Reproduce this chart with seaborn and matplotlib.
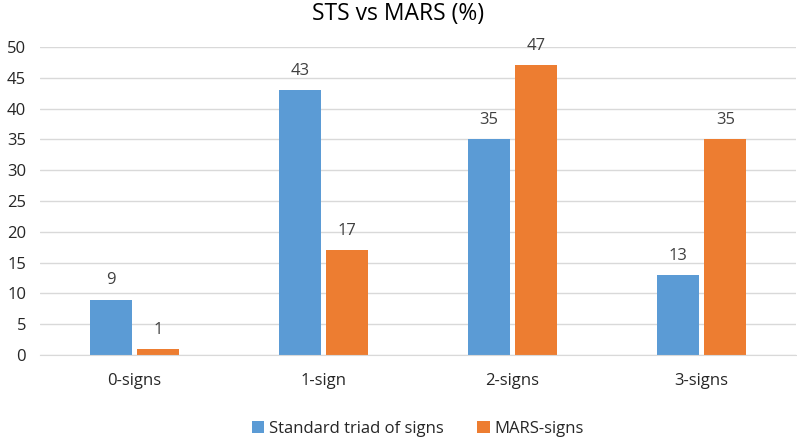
import pandas as pd
import matplotlib.pyplot as plt
import seaborn as sns

# data
categories = ['0-signs', '1-sign', '2-signs', '3-signs']
sts = [9, 43, 35, 13]
mars = [1, 17, 47, 35]
series = ['Standard triad of signs', 'MARS-signs']

df = pd.DataFrame({
    'cat': categories * 2,
    'val': sts + mars,
    'series': [series[0]] * 4 + [series[1]] * 4,
})

sns.set_style('white')
plt.rcParams['font.family'] = ['Open Sans', 'DejaVu Sans']

fig = plt.figure(figsize=(7.97, 4.4), dpi=100)
ax = fig.add_axes([40 / 797, 1 - 355 / 440, 756 / 797, 308 / 440])

sns.barplot(data=df, x='cat', y='val', hue='series', order=categories,
            hue_order=series, palette=['#5B9BD5', '#ED7D31'], saturation=1,
            width=0.503, gap=0.117, linewidth=0, ax=ax, legend=True)

for cont in ax.containers:
    ax.bar_label(cont, padding=8, fontsize=12, color='#404040')

ax.set_ylim(0, 50)
ax.set_yticks(range(0, 51, 5))
ax.set_xlim(-0.5, 3.5)
ax.yaxis.grid(True, color='#D9D9D9', linewidth=1)
ax.set_axisbelow(True)
for s in ['top', 'right', 'left']:
    ax.spines[s].set_visible(False)
ax.spines['bottom'].set_color('#D9D9D9')
ax.tick_params(axis='both', length=0, labelsize=12, labelcolor='#262626')
ax.tick_params(axis='x', pad=13)
ax.tick_params(axis='y', pad=10)
ax.set_xlabel('')
ax.set_ylabel('')

fig.suptitle('STS vs MARS (%)', y=0.995, fontsize=16.5, color='#000000')

leg = ax.legend(loc='center', bbox_to_anchor=(0.5, -0.24), ncol=2, frameon=False,
                fontsize=12, handlelength=0.75, handleheight=0.75, handletextpad=0.3,
                columnspacing=2.0)
for t in leg.get_texts():
    t.set_color('#262626')

fig.savefig('out.png', dpi=100)
